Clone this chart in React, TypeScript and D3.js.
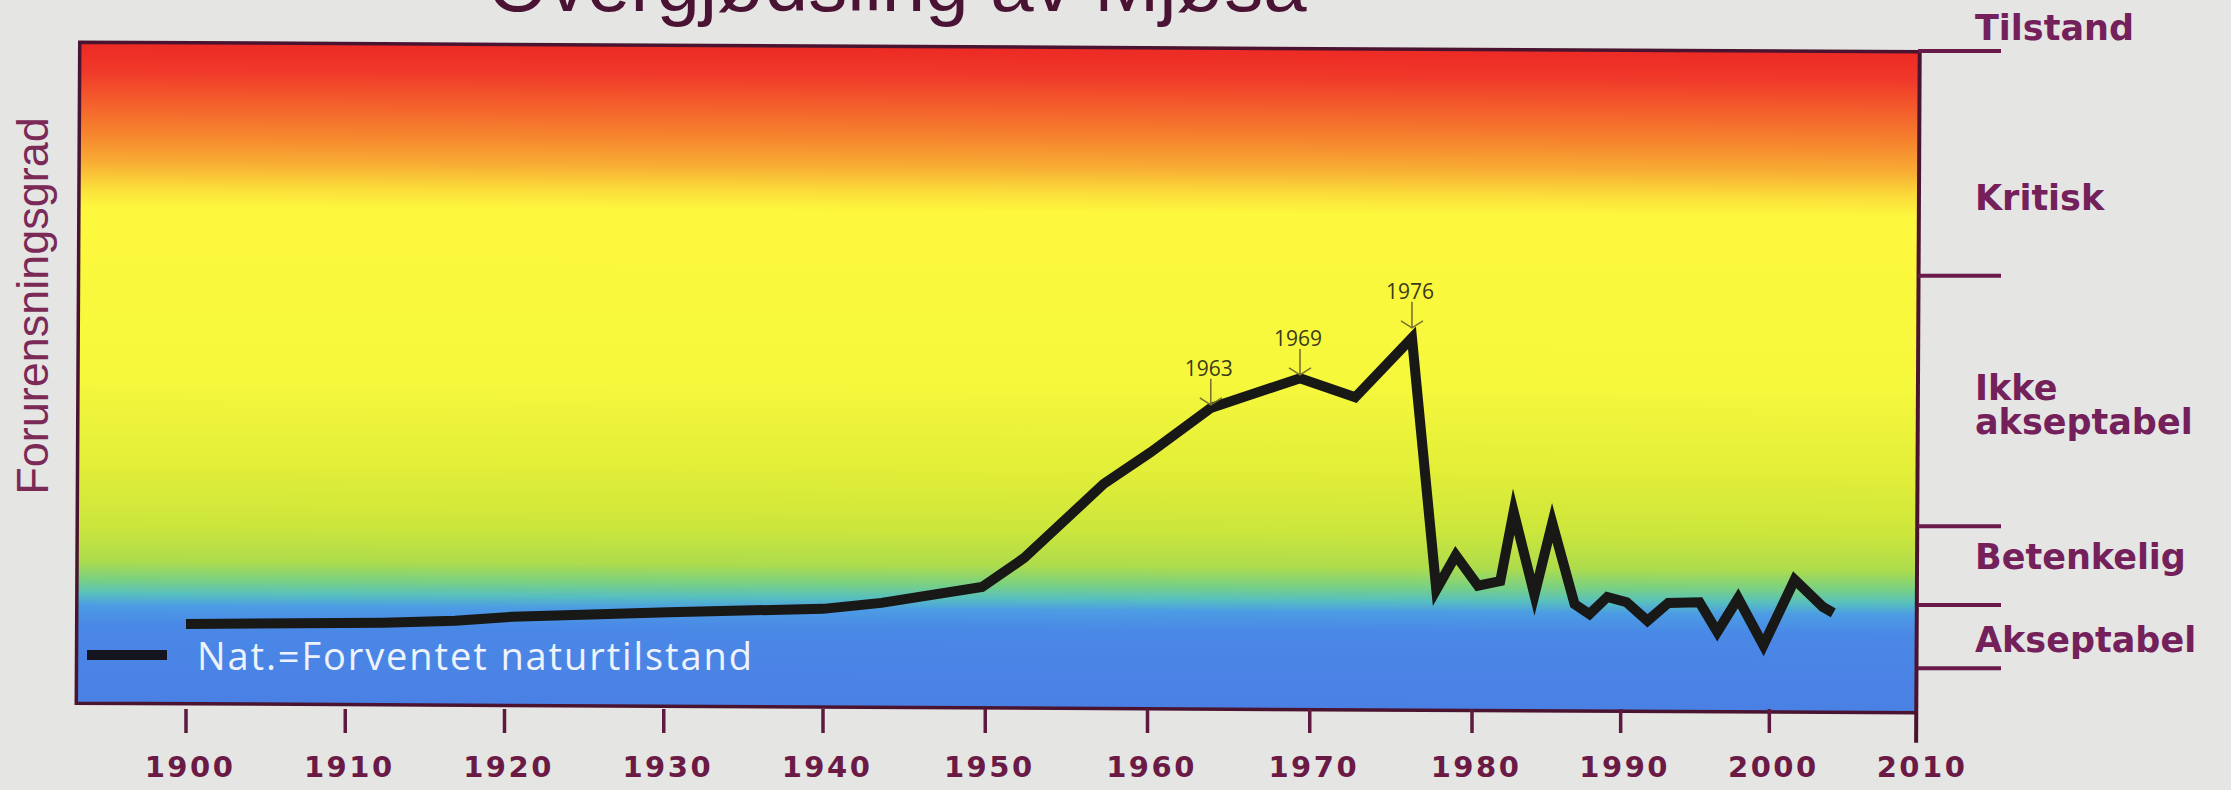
import React, { useEffect, useRef } from 'react';
import * as d3 from 'd3';

// Decade ticks on the time axis
const decades = [1900, 1910, 1920, 1930, 1940, 1950, 1960, 1970, 1980, 1990, 2000, 2010];

// Pollution curve: year and degree (0 = plot floor, 100 = plot top)
const years = [
  1900, 1912.4, 1916.9, 1920.5, 1930.3, 1940, 1943.6, 1949.8, 1952.4, 1957.3,
  1960.2, 1963.9, 1969.4, 1972.8, 1976.3, 1977.8, 1979.0, 1980.4, 1981.9, 1982.8,
  1984.2, 1985.4, 1986.9, 1987.9, 1989.1, 1990.4, 1991.8, 1993.2, 1995.3, 1996.5,
  1997.9, 1999.6, 2001.7, 2003.6, 2004.3,
];
const pollution = [
  12.7, 12.9, 13.2, 13.8, 14.5, 15.0, 15.9, 18.3, 22.7, 33.9,
  38.7, 45.4, 49.9, 47.0, 56.0, 17.9, 23.1, 18.5, 19.2, 29.7,
  17.1, 28.0, 15.7, 14.2, 16.8, 16.0, 13.2, 15.9, 16.0, 11.5,
  16.6, 9.5, 19.4, 15.3, 14.4,
];

// Year call-outs with arrows (index into the series)
const calloutLabels = ['1963', '1969', '1976'];
const calloutIndex = [11, 12, 14];

// State classes on the right-hand scale
const stateBreaks = [6, 15.6, 27.5, 65.4, 99.4];
const stateLabels = ['Tilstand', 'Kritisk', 'Ikke\nakseptabel', 'Betenkelig', 'Akseptabel'];
const stateLabelAt = [101.1, 75.3, 46.6, 21.0, 8.5];

const TITLE = 'Overgjødsling av Mjøsa';
const Y_TITLE = 'Forurensningsgrad';
const LEGEND = 'Nat.=Forventet naturtilstand';

const LINE_WIDTH = 10;

const App: React.FC = () => {
  const svgRef = useRef<SVGSVGElement>(null);

  useEffect(() => {
    if (!svgRef.current) return;

    const svg = d3.select(svgRef.current);
    svg.selectAll('*').remove();

    const width = 2231;
    const height = 790;
    const left = 78;
    const right = 1918;
    const top = 47;
    const bottom = 708;

    // the printed axis is not quite even, so calibrate on a few decades
    const x = d3.scaleLinear()
      .domain([1900, 1940, 1980, 2010])
      .range([186, 823, 1472, right]);
    const y = d3.scaleLinear()
      .domain([0, 100])
      .range([bottom, top]);

    svg.append('rect')
      .attr('width', width)
      .attr('height', height)
      .attr('fill', '#e5e5e4');

    // red -> yellow -> blue band behind the curve
    const stops: [number, string][] = [
      [0, '#ec2a24'], [0.042, '#f0382a'], [0.095, '#f4622c'], [0.14, '#f6862e'],
      [0.183, '#f8ae34'], [0.219, '#fbdc3a'], [0.25, '#fdf83e'], [0.504, '#f6f83c'],
      [0.64, '#e2ee38'], [0.73, '#cce63c'], [0.784, '#aedc4c'], [0.814, '#78d084'],
      [0.834, '#58c0be'], [0.852, '#4c9ce4'], [0.882, '#4a88e6'], [1, '#4a80e4'],
    ];
    const grad = svg.append('defs').append('linearGradient')
      .attr('id', 'band')
      .attr('x1', 0).attr('y1', 0).attr('x2', 0).attr('y2', 1);
    stops.forEach(([o, c]) => grad.append('stop').attr('offset', o).attr('stop-color', c));

    // Frame (the scan sits slightly crooked)
    const frame = svg.append('g')
      .attr('transform', `rotate(0.3, ${(left + right) / 2}, ${(top + bottom) / 2})`);
    frame.append('rect')
      .attr('x', left).attr('y', top)
      .attr('width', right - left).attr('height', bottom - top)
      .attr('fill', 'url(#band)');
    frame.append('path')
      .attr('d', `M${right},${top}H${left}V${bottom}H${right}`)
      .attr('fill', 'none')
      .attr('stroke', '#4a1430')
      .attr('stroke-width', 3.5);
    frame.append('line')
      .attr('x1', right).attr('x2', right)
      .attr('y1', top - 1).attr('y2', 738)
      .attr('stroke', '#4a1430')
      .attr('stroke-width', 4);

    // Bottom ticks + labels
    const axisColor = '#5e1a3e';
    svg.append('g')
      .selectAll('line')
      .data(decades.slice(0, -1))
      .join('line')
      .attr('x1', d => x(d)).attr('x2', d => x(d))
      .attr('y1', bottom + 1).attr('y2', 733)
      .attr('stroke', axisColor)
      .attr('stroke-width', 3.5);

    svg.append('g')
      .selectAll('text')
      .data(decades)
      .join('text')
      .attr('x', d => x(d) + 4)
      .attr('y', 777)
      .attr('text-anchor', 'middle')
      .style('font-family', '"DejaVu Sans", sans-serif')
      .style('font-weight', 'bold')
      .style('font-size', '29px')
      .style('letter-spacing', '2.5px')
      .style('fill', '#6a1a44')
      .text(d => String(d));

    // Right-hand state scale
    svg.append('g')
      .selectAll('line')
      .data(stateBreaks)
      .join('line')
      .attr('x1', right).attr('x2', 2001)
      .attr('y1', d => y(d)).attr('y2', d => y(d))
      .attr('stroke', '#6a1a4a')
      .attr('stroke-width', 4);

    const stateText = svg.append('g')
      .selectAll('text')
      .data(stateLabels)
      .join('text')
      .attr('x', 1975)
      .attr('y', (_, i) => y(stateLabelAt[i]))
      .style('font-family', '"DejaVu Sans", sans-serif')
      .style('font-weight', 'bold')
      .style('font-size', '35px')
      .style('fill', '#74205a');
    stateText.each(function (d) {
      const t = d3.select(this);
      d.split('\n').forEach((part, j) => {
        t.append('tspan')
          .attr('x', 1975)
          .attr('dy', j === 0 ? 0 : 34)
          .text(part);
      });
    });

    // Pollution curve
    const line = d3.line<number>()
      .x((_, i) => x(years[i]))
      .y(d => y(d));
    svg.append('path')
      .datum(pollution)
      .attr('d', line)
      .attr('fill', 'none')
      .attr('stroke', '#181816')
      .attr('stroke-width', LINE_WIDTH)
      .attr('stroke-linejoin', 'miter')
      .attr('stroke-miterlimit', 8);

    // Year call-outs: arrow tip sits on the outer edge of the (mitered) stroke
    calloutIndex.forEach((idx, k) => {
      const px = x(years[idx]);
      const py = y(pollution[idx]);
      const a1 = Math.atan2(y(pollution[idx - 1]) - py, x(years[idx - 1]) - px);
      const a2 = Math.atan2(y(pollution[idx + 1]) - py, x(years[idx + 1]) - px);
      let turn = Math.abs(a1 - a2);
      if (turn > Math.PI) turn = 2 * Math.PI - turn;
      const tip = py - (LINE_WIDTH / 2) / Math.sin(turn / 2) + 2;

      const g = svg.append('g');
      g.append('path')
        .attr('d', `M${px},${tip - 26}V${tip}M${px - 11},${tip - 7}L${px},${tip}L${px + 11},${tip - 7}`)
        .attr('fill', 'none')
        .attr('stroke', '#7a7430')
        .attr('stroke-width', 1.6);
      g.append('text')
        .attr('x', px - 2)
        .attr('y', tip - 29)
        .attr('text-anchor', 'middle')
        .style('font-family', '"Open Sans", sans-serif')
        .style('font-size', '21px')
        .style('fill', '#3c3a1a')
        .text(calloutLabels[k]);
    });

    // Legend
    svg.append('line')
      .attr('x1', 87).attr('x2', 167)
      .attr('y1', 655).attr('y2', 655)
      .attr('stroke', '#151520')
      .attr('stroke-width', LINE_WIDTH);
    svg.append('text')
      .attr('x', 197)
      .attr('y', 670)
      .attr('textLength', 555)
      .style('font-family', '"Open Sans", sans-serif')
      .style('font-size', '38px')
      .style('fill', '#eef3fb')
      .text(LEGEND);

    // Titles
    svg.append('text')
      .attr('x', 897)
      .attr('y', 11)
      .attr('text-anchor', 'middle')
      .style('font-family', '"Liberation Sans", Arial, sans-serif')
      .style('font-size', '78px')
      .style('fill', '#4b1333')
      .text(TITLE);

    svg.append('text')
      .attr('transform', 'translate(48,306) rotate(-90)')
      .attr('text-anchor', 'middle')
      .style('font-family', '"Liberation Sans", Arial, sans-serif')
      .style('font-size', '45px')
      .style('fill', '#7b2a57')
      .text(Y_TITLE);
  }, []);

  return (
    <svg
      ref={svgRef}
      width={2231}
      height={790}
      style={{ position: 'absolute', left: 0, top: 0, display: 'block' }}
    />
  );
};

export default App;
